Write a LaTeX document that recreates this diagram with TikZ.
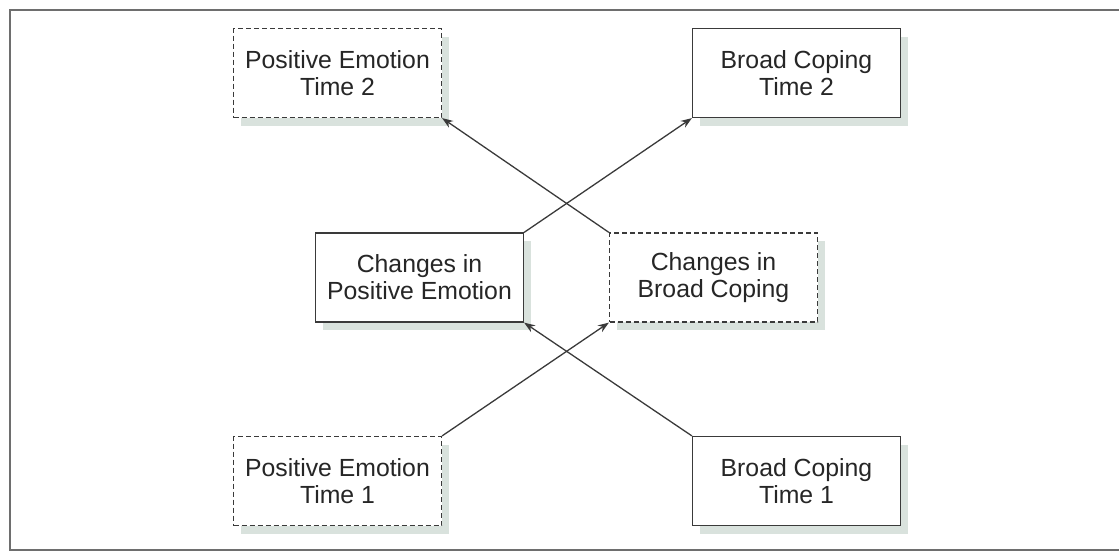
\documentclass[tikz,border=0pt]{standalone}
\usepackage{fontspec}
\setmainfont{Liberation Sans}
\usetikzlibrary{arrows.meta}
\definecolor{edge}{HTML}{3A3A3A}
\definecolor{shade}{HTML}{D9E2DD}
\definecolor{framec}{HTML}{6E6E6E}
\begin{document}
\begin{tikzpicture}[x=1pt,y=-1pt,
  box/.style={draw=edge,line width=1.2pt,fill=white,minimum width=208pt,minimum height=89pt,
    align=center,inner sep=0pt,font=\fontsize{24.8}{27}\selectfont,text=black!85,
    preaction={draw=none,fill=shade,transform canvas={shift={(7pt,-8pt)}}}},
  dbox/.style={box,dash pattern=on 5pt off 3pt},
  link/.style={draw=edge,line width=1.3pt,-{Stealth[length=11pt,width=8pt]}}]
\useasboundingbox (0,0) rectangle (1119,552);
\clip (0,0) rectangle (1119,552);
% outer frame
\draw[framec,line width=2pt] (10,10) rectangle (1130,550);
% boxes
\node[dbox] (pe2) at (337.5,73) {Positive Emotion\\Time 2};
\node[box]  (bc2) at (796.5,73) {Broad Coping\\Time 2};
\node[box]  (cpe) at (419.5,277.5) {Changes in\\Positive Emotion};
\node[dbox] (cbc) at (713.5,277.5) {Changes in\\Broad Coping};
\node[dbox] (pe1) at (337.5,481) {Positive Emotion\\Time 1};
\node[box]  (bc1) at (796.5,481) {Broad Coping\\Time 1};
% paths
\draw[link] (pe1.north east) -- (cbc.south west);
\draw[link] (bc1.north west) -- (cpe.south east);
\draw[link] (cpe.north east) -- (bc2.south west);
\draw[link] (cbc.north west) -- (pe2.south east);
\end{tikzpicture}
\end{document}
